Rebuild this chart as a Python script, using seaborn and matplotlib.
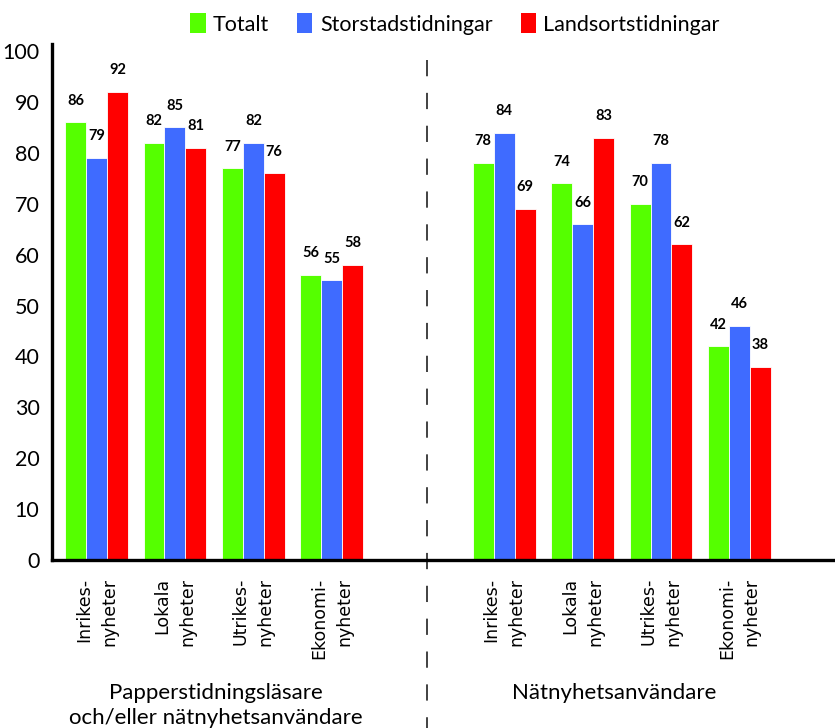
import matplotlib
matplotlib.use("Agg")
import matplotlib.pyplot as plt
from matplotlib.patches import Patch
from matplotlib.font_manager import FontProperties
import seaborn as sns
import pandas as pd

# --- data -------------------------------------------------------------
topics = ["Inrikes-\nnyheter", "Lokala\nnyheter", "Utrikes-\nnyheter", "Ekonomi-\nnyheter"]
groups = ["Papperstidningsläsare\noch/eller nätnyhetsanvändare", "Nätnyhetsanvändare"]
series = ["Totalt", "Storstadstidningar", "Landsortstidningar"]

print_totalt = [86, 82, 77, 56]
print_storstad = [79, 85, 82, 55]
print_landsort = [92, 81, 76, 58]

net_totalt = [78, 74, 70, 42]
net_storstad = [84, 66, 78, 46]
net_landsort = [69, 83, 62, 38]

colors = ["#55FF00", "#3F6BFF", "#FF0000"]

# --- layout of the two blocks on a numeric axis ----------------------
left_pos = [0, 1, 2, 3]
right_pos = [5.2, 6.2, 7.2, 8.2]
divider_x = 4.21

rows = []
for pos_list, vals in ((left_pos, [print_totalt, print_storstad, print_landsort]),
                       (right_pos, [net_totalt, net_storstad, net_landsort])):
    for name, v in zip(series, vals):
        for p, val in zip(pos_list, v):
            rows.append({"pos": p, "serie": name, "varde": val})
df = pd.DataFrame(rows)

# --- fonts ------------------------------------------------------------
sns.set_theme(style="white")
narrow = ["Lato", "DejaVu Sans"]
plt.rcParams["font.family"] = narrow
plt.rcParams["text.color"] = "black"
plt.rcParams["xtick.color"] = "black"
plt.rcParams["ytick.color"] = "black"
topic_font = FontProperties(family="DejaVu Sans", size=12.5)

fig = plt.figure(figsize=(8.35, 7.28), dpi=100)
ax = fig.add_axes([52 / 835, (728 - 560) / 728, 1 - 52 / 835, (560 - 44) / 728])

sns.barplot(data=df, x="pos", y="varde", hue="serie", hue_order=series,
            palette=colors, native_scale=True, width=0.8, gap=0,
            edgecolor="white", linewidth=0.6, saturation=1, ax=ax,
            legend=False, err_kws={"linewidth": 0})

for cont in ax.containers:
    ax.bar_label(cont, fmt="%d", padding=10.5, fontsize=10.5, fontweight="bold",
                 color="black")

ax.set_xlim(-0.568, 9.42)
ax.set_ylim(0, 101.4)
ax.tick_params(axis="x", length=0, pad=13)
ax.tick_params(axis="y", length=0, pad=9, labelsize=15.5, labelcolor="black")
ax.set_yticks(range(0, 101, 10))
ax.set_xticks(left_pos + right_pos)
ax.set_xticklabels(topics + topics, rotation=90, ha="center", va="top",
                   multialignment="right", linespacing=1.5,
                   fontproperties=topic_font, color="black")
ax.set_xlabel("")
ax.set_ylabel("")

for s in ("top", "right"):
    ax.spines[s].set_visible(False)
for s in ("left", "bottom"):
    ax.spines[s].set_color("black")
    ax.spines[s].set_linewidth(2.4)

# dashed divider between the two reader groups
ax.plot([divider_x, divider_x], [98.2, -33.5], color="#333333", lw=1.3,
        dashes=(9, 9.2), dash_capstyle="butt", clip_on=False, zorder=0)

# group captions below the topic labels
ax.text(1.52, -28.6, groups[0], ha="center", va="center", fontsize=16,
        linespacing=1.3, color="black", transform=ax.transData, clip_on=False)
ax.text(6.6, -26.1, groups[1], ha="center", va="center", fontsize=16,
        color="black", transform=ax.transData, clip_on=False)

# legend across the top
handles = [Patch(facecolor=c, edgecolor="none", label=n) for c, n in zip(colors, series)]
fig.legend(handles=handles, loc="center", bbox_to_anchor=(455 / 835, 1 - 24 / 728),
           ncol=3, frameon=False, fontsize=15.5, handlelength=0.7, handleheight=1.0,
           handletextpad=0.35, columnspacing=1.3, borderaxespad=0,
           labelcolor="black")

# make sure the topic labels keep their font after layout
fig.canvas.draw()
for lab in ax.get_xticklabels():
    lab.set_fontproperties(topic_font)

fig.savefig("out.png", dpi=100)
